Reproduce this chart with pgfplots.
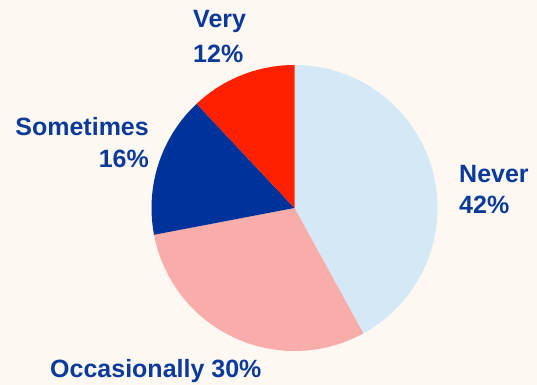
\documentclass[border=0pt]{standalone}
\usepackage{pgfplots}
\usepackage{pgfplotstable}
\pgfplotsset{compat=1.18}
\usepackage{fontspec}
\setmainfont{Liberation Sans}
\definecolor{bg}{HTML}{FDF8F2}
\definecolor{cNever}{HTML}{D4E8F6}
\definecolor{cOcc}{HTML}{F9ADAB}
\definecolor{cSome}{HTML}{003399}
\definecolor{cVery}{HTML}{FF2000}
\definecolor{txt}{HTML}{0B3A9A}
\pgfplotstableread{
label value
Never 42
Occasionally 30
Sometimes 16
Very 12
}\piedata
\pgfplotstablegetelem{0}{value}\of\piedata \let\vA\pgfplotsretval
\pgfplotstablegetelem{1}{value}\of\piedata \let\vB\pgfplotsretval
\pgfplotstablegetelem{2}{value}\of\piedata \let\vC\pgfplotsretval
\pgfplotstablegetelem{3}{value}\of\piedata \let\vD\pgfplotsretval
\pgfmathsetmacro{\aA}{90}
\pgfmathsetmacro{\aB}{\aA-3.6*\vA}
\pgfmathsetmacro{\aC}{\aB-3.6*\vB}
\pgfmathsetmacro{\aD}{\aC-3.6*\vC}
\pgfmathsetmacro{\aE}{\aD-3.6*\vD}
\begin{document}
\begin{tikzpicture}
\begin{axis}[scale only axis, width=537bp, height=385bp,
  xmin=0, xmax=537, ymin=0, ymax=385, y dir=reverse,
  hide axis, clip=false]
\fill[bg] (axis cs:0,0) rectangle (axis cs:537,385);
\fill[cNever] (axis cs:294.5,208) -- ++(\aA:143bp) arc[start angle=\aA, end angle=\aB, radius=143bp] -- cycle;
\fill[cOcc] (axis cs:294.5,208) -- ++(\aB:143bp) arc[start angle=\aB, end angle=\aC, radius=143bp] -- cycle;
\fill[cSome] (axis cs:294.5,208) -- ++(\aC:143bp) arc[start angle=\aC, end angle=\aD, radius=143bp] -- cycle;
\fill[cVery] (axis cs:294.5,208) -- ++(\aD:143bp) arc[start angle=\aD, end angle=\aE, radius=143bp] -- cycle;
\begin{scope}[every node/.style={inner sep=0pt, text=txt, font=\fontsize{25bp}{29bp}\selectfont\bfseries}]
\node[anchor=base west] at (axis cs:193,28) {Very};
\node[anchor=base west] at (axis cs:193,62) {12\%};
\node[anchor=base east] at (axis cs:149,135) {Sometimes};
\node[anchor=base east] at (axis cs:149,167) {16\%};
\node[anchor=base west] at (axis cs:459,182) {Never};
\node[anchor=base west] at (axis cs:459,213) {42\%};
\node[anchor=base west] at (axis cs:50,377) {Occasionally 30\%};
\end{scope}
\end{axis}
\end{tikzpicture}
\end{document}
